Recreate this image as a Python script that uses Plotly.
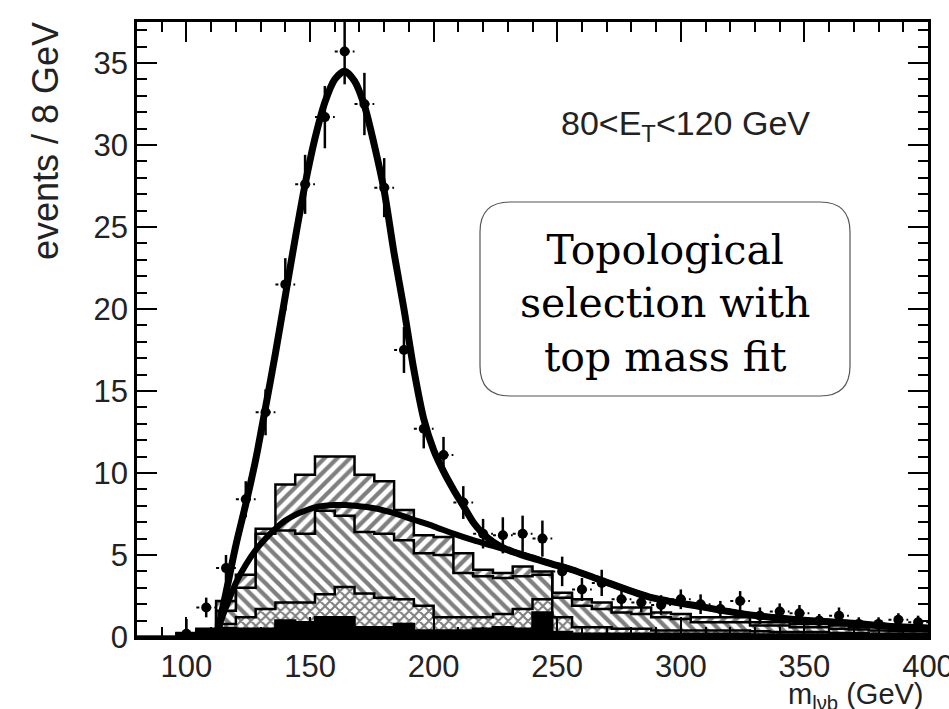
import numpy as np
import plotly.graph_objects as go

# ---------------- data ----------------
bin_width = 8
bin_centers = [84, 92, 100, 108, 116, 124, 132, 140, 148, 156, 164, 172, 180, 188,
               196, 204, 212, 220, 228, 236, 244, 252, 260, 268, 276, 284, 292, 300,
               308, 316, 324, 332, 340, 348, 356, 364, 372, 380, 388, 396]

h_black = [0, 0, 0.2, 0.3, 0.55, 0.5, 0.5, 1.0, 0.9, 1.2, 1.2, 0.6, 0.6, 0.8,
           0.4, 0.4, 0.4, 0.5, 0.6, 0.5, 1.5, 0.3, 0.2, 0.2, 0.2, 0.2, 0.2, 0.2,
           0.2, 0.2, 0.2, 0.15, 0.15, 0.15, 0.15, 0.1, 0.1, 0.1, 0.1, 0.1]
h_cross = [0, 0, 0, 0.05, 0.25, 0.7, 1.2, 1.1, 1.2, 1.4, 1.85, 2.05, 1.8, 1.5,
           1.5, 0.8, 0.8, 0.7, 0.8, 1.2, 0.8, 0.9, 0.4, 0.4, 0.3, 0.3, 0.2, 0.2,
           0.2, 0.2, 0.2, 0.2, 0.15, 0.15, 0.15, 0.15, 0.15, 0.1, 0.1, 0.1]
h_back = [0, 0, 0, 0.05, 0.8, 1.8, 4.6, 4.4, 4.2, 5.1, 4.35, 3.75, 3.9, 3.6,
          3.2, 3.8, 2.7, 2.5, 2.2, 2.0, 1.5, 1.2, 1.3, 1.1, 1.0, 0.9, 0.8, 0.7,
          0.5, 0.5, 0.5, 0.35, 0.4, 0.3, 0.3, 0.25, 0.2, 0.2, 0.15, 0.15]
h_fwd = [0, 0, 0.05, 0.1, 0.6, 0.8, 0.3, 2.8, 3.6, 3.3, 3.6, 3.5, 3.2, 1.85,
         1.1, 1.1, 1.2, 0.4, 0.3, 0.6, 0.2, 0.3, 0.4, 0.4, 0.3, 0.4, 0.3, 0.3,
         0.3, 0.3, 0.3, 0.2, 0.2, 0.2, 0.2, 0.2, 0.15, 0.2, 0.15, 0.15]

data_x = [100, 108, 116, 124, 132, 140, 148, 156, 164, 172, 180, 188, 196, 204,
          212, 220, 228, 236, 244, 252, 260, 268, 276, 284, 292, 300, 308, 316,
          324, 332, 340, 348, 356, 364, 372, 380, 388, 396]
data_y = [0.2, 1.8, 4.2, 8.4, 13.7, 21.5, 27.6, 31.7, 35.7, 32.5, 27.4, 17.5, 12.7, 11.1,
          8.2, 6.3, 6.2, 6.3, 6.0, 4.0, 2.9, 3.3, 2.3, 2.1, 1.95, 2.3, 2.0, 1.7,
          2.2, 1.3, 1.55, 1.45, 1.0, 1.3, 0.8, 0.8, 1.05, 0.9]
data_err = [0.9, 0.6, 0.8, 1.1, 1.4, 1.6, 1.8, 1.9, 2.0, 1.9, 1.8, 1.4, 1.2, 1.1,
            1.0, 0.9, 1.1, 1.1, 1.1, 0.9, 0.7, 0.8, 0.6, 0.6, 0.6, 0.6, 0.6, 0.5,
            0.6, 0.5, 0.5, 0.5, 0.4, 0.5, 0.4, 0.4, 0.4, 0.4]

fit_x = [112.5, 114, 116, 120, 124, 128, 132, 136, 140, 144, 148, 152, 156, 160, 164,
         168, 172, 176, 180, 184, 188, 192, 196, 200, 204, 208, 212, 216, 220, 224,
         228, 232, 240, 248, 256, 267, 287, 308, 328, 348, 368, 388, 400]
fit_y = [0, 1.3, 2.7, 5.6, 8.1, 10.8, 14.0, 17.3, 20.8, 24.3, 27.6, 30.4, 32.6, 34.0, 34.5,
         33.9, 32.4, 30.0, 27.2, 23.4, 20.0, 16.3, 13.3, 11.4, 10.1, 9.0, 8.0, 7.0, 6.3, 5.8,
         5.45, 5.2, 4.8, 4.45, 4.1, 3.5, 2.45, 1.85, 1.35, 1.04, 0.85, 0.62, 0.55]

bkg_x = [112, 114, 116, 120, 124, 128, 132, 136, 140, 144, 148, 152, 156, 160, 164,
         168, 176, 184, 192, 200, 208, 216, 224, 232, 240, 248, 256, 267, 287, 308,
         328, 348, 368, 388, 400]
bkg_y = [0, 1.0, 1.8, 3.3, 4.4, 5.3, 6.0, 6.6, 7.1, 7.45, 7.7, 7.9, 8.0, 8.05, 8.05,
         8.0, 7.85, 7.55, 7.15, 6.75, 6.3, 5.9, 5.55, 5.2, 4.85, 4.45, 4.1, 3.5, 2.45, 1.85,
         1.35, 1.04, 0.85, 0.62, 0.55]

x_ticks = [100, 150, 200, 250, 300, 350, 400]
y_ticks = [0, 5, 10, 15, 20, 25, 30, 35]

# ---------------- figure ----------------
W, H = 949, 709
ML, MR, MT, MB = 137, 21, 22, 72
PW, PH = W - ML - MR, H - MT - MB


def px2paper(px, py):
    return (px - ML) / PW, (H - MB - py) / PH


fig = go.Figure()

layers = [
    (h_black, dict(color="black")),
    (h_cross, dict(color="white", pattern=dict(shape="x", fgcolor="black", bgcolor="white",
                                                size=7, solidity=0.5))),
    (h_back, dict(color="white", pattern=dict(shape="\\", fgcolor="black", bgcolor="white",
                                               size=9, solidity=0.48))),
    (h_fwd, dict(color="white", pattern=dict(shape="/", fgcolor="black", bgcolor="white",
                                              size=9, solidity=0.48))),
]
for vals, mk in layers:
    mk = dict(mk)
    mk["line"] = dict(width=0)
    fig.add_trace(go.Bar(x=bin_centers, y=vals, width=bin_width, marker=mk,
                         showlegend=False, hoverinfo="skip"))

# step outlines of cumulative stacks
edges = [c - bin_width / 2 for c in bin_centers] + [bin_centers[-1] + bin_width / 2]
cum = np.zeros(len(bin_centers))
for vals, _ in layers:
    cum = cum + np.array(vals)
    fig.add_trace(go.Scatter(x=edges, y=list(cum) + [cum[-1]], mode="lines",
                             line=dict(color="black", width=2.5, shape="hv"),
                             showlegend=False, hoverinfo="skip"))

# fit curves
fig.add_trace(go.Scatter(x=bkg_x, y=bkg_y, mode="lines",
                         line=dict(color="black", width=6, shape="spline", smoothing=0.8),
                         showlegend=False))
fig.add_trace(go.Scatter(x=fit_x, y=fit_y, mode="lines",
                         line=dict(color="black", width=7, shape="spline", smoothing=0.8),
                         showlegend=False))

# error bars (dashed like the reference)
ex, ey, vx, vy = [], [], [], []
for x, y, e in zip(data_x, data_y, data_err):
    ex += [x - bin_width / 2, x + bin_width / 2, None]
    ey += [y, y, None]
    vx += [x, x, None]
    vy += [y - e, y + e, None]
fig.add_trace(go.Scatter(x=ex, y=ey, mode="lines", line=dict(color="black", width=2, dash="dot"),
                         showlegend=False, hoverinfo="skip"))
fig.add_trace(go.Scatter(x=vx, y=vy, mode="lines", line=dict(color="black", width=2.5),
                         showlegend=False, hoverinfo="skip"))
fig.add_trace(go.Scatter(x=data_x, y=data_y, mode="markers",
                         marker=dict(color="black", size=10), showlegend=False))

axis_font = dict(family="Liberation Sans, Arial, sans-serif", size=31, color="#222")
fig.update_xaxes(range=[80, 400], tickvals=x_ticks, ticks="inside", ticklen=20, tickwidth=2,
                 tickcolor="black", showline=True, linewidth=2.5, linecolor="black",
                 mirror="allticks", showgrid=False, zeroline=False, tickfont=axis_font,
                 ticklabeloverflow="allow", automargin=False,
                 minor=dict(ticks="inside", ticklen=10, tickwidth=2, dtick=10, tick0=0,
                            tickcolor="black", showgrid=False))
fig.update_yaxes(range=[0, 37.5], tickvals=y_ticks, ticks="inside", ticklen=20, tickwidth=2,
                 tickcolor="black", showline=True, linewidth=2.5, linecolor="black",
                 mirror="allticks", showgrid=False, zeroline=False, tickfont=axis_font,
                 automargin=False,
                 minor=dict(ticks="inside", ticklen=10, tickwidth=2, dtick=1, tick0=0,
                            tickcolor="black", showgrid=False))

# rounded box
x0, y0 = px2paper(480, 396)
x1, y1 = px2paper(850, 202)
rx, ry = 30 / PW, 30 / PH
path = (f"M {x0+rx},{y1} L {x1-rx},{y1} Q {x1},{y1} {x1},{y1-ry} "
        f"L {x1},{y0+ry} Q {x1},{y0} {x1-rx},{y0} L {x0+rx},{y0} Q {x0},{y0} {x0},{y0+ry} "
        f"L {x0},{y1-ry} Q {x0},{y1} {x0+rx},{y1} Z")
fig.add_shape(type="path", path=path, xref="paper", yref="paper",
              line=dict(color="#555", width=1.2), fillcolor="white", layer="above")

bx, by = px2paper(665, 303)
fig.add_annotation(x=bx, y=by, xref="paper", yref="paper",
                   text="Topological<br>selection with<br>top mass fit",
                   showarrow=False, align="center", xanchor="center", yanchor="middle",
                   font=dict(family="DejaVu Serif, serif", size=41, color="black"))

ex_, ey_ = px2paper(685, 126)
fig.add_annotation(x=ex_, y=ey_, xref="paper", yref="paper",
                   text="80&lt;E<sub>T</sub>&lt;120 GeV", showarrow=False,
                   xanchor="center", yanchor="middle",
                   font=dict(family="Liberation Sans, Arial, sans-serif", size=34, color="#222"))

tx, ty = px2paper(45, 20)
fig.add_annotation(x=tx, y=ty, xref="paper", yref="paper", text="events / 8 GeV",
                   textangle=-90, showarrow=False, xanchor="center", yanchor="top",
                   font=dict(family="Liberation Sans, Arial, sans-serif", size=36, color="#222"))

xx, xy = px2paper(926, 676)
fig.add_annotation(x=xx, y=xy, xref="paper", yref="paper", text="m<sub>lνb</sub> (GeV)",
                   showarrow=False, xanchor="right", yanchor="top",
                   font=dict(family="Liberation Sans, Arial, sans-serif", size=29, color="#222"))

fig.update_layout(width=W, height=H, margin=dict(l=ML, r=MR, t=MT, b=MB),
                  paper_bgcolor="white", plot_bgcolor="white",
                  barmode="stack", bargap=0, showlegend=False)

fig.write_html("out.html")
